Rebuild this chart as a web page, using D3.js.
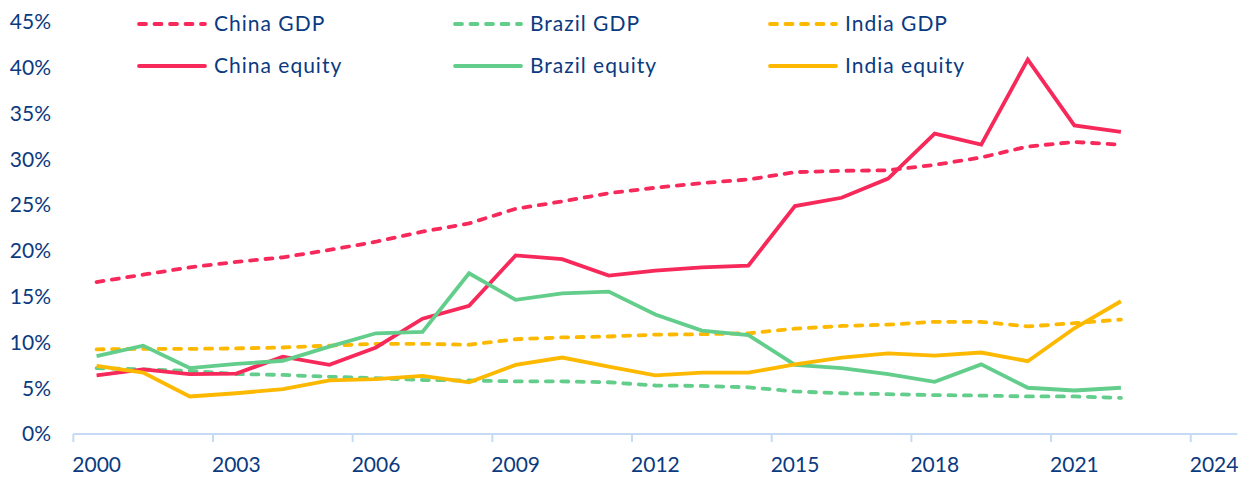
<!DOCTYPE html>
<html>
<head>
<meta charset="utf-8">
<style>
body { margin: 0; background: #fff; }
svg text { font-family: Lato, "Open Sans", sans-serif; fill: #0a3a80; }
.axis text { font-size: 21px; }
.legend text { font-size: 21px; letter-spacing: 1px; }
</style>
<script src="https://d3js.org/d3.v7.min.js"></script>
</head>
<body>
<svg width="1245" height="477"></svg>
<script>
// annual values, plotted mid-year
var years = [2000, 2001, 2002, 2003, 2004, 2005, 2006, 2007, 2008, 2009, 2010, 2011,
             2012, 2013, 2014, 2015, 2016, 2017, 2018, 2019, 2020, 2021, 2022];

var chinaGdp = [16.6, 17.4, 18.2, 18.8, 19.3, 20.1, 21.0, 22.1, 23.0, 24.6, 25.4, 26.3,
                26.9, 27.4, 27.8, 28.6, 28.75, 28.8, 29.4, 30.2, 31.4, 31.9, 31.6];
var brazilGdp = [7.2, 7.05, 6.9, 6.55, 6.45, 6.25, 6.1, 5.9, 5.85, 5.75, 5.75, 5.65,
                 5.3, 5.25, 5.1, 4.65, 4.45, 4.35, 4.25, 4.2, 4.1, 4.1, 3.95];
var indiaGdp = [9.25, 9.3, 9.3, 9.35, 9.45, 9.65, 9.85, 9.85, 9.75, 10.35, 10.55, 10.65,
                10.85, 10.9, 11.0, 11.5, 11.8, 11.95, 12.25, 12.25, 11.75, 12.1, 12.5];
var chinaEq = [6.4, 7.05, 6.55, 6.6, 8.45, 7.55, 9.45, 12.6, 14.0, 19.5, 19.1, 17.3,
               17.85, 18.2, 18.4, 24.9, 25.8, 27.9, 32.8, 31.6, 40.9, 33.7, 33.0];
var brazilEq = [8.5, 9.65, 7.2, 7.65, 8.0, 9.55, 11.0, 11.15, 17.55, 14.65, 15.35, 15.55,
                13.05, 11.3, 10.8, 7.55, 7.2, 6.55, 5.7, 7.6, 5.05, 4.75, 5.05];
var indiaEq = [7.45, 6.7, 4.1, 4.45, 4.9, 5.85, 6.0, 6.35, 5.65, 7.55, 8.35, 7.35,
               6.4, 6.7, 6.7, 7.6, 8.35, 8.8, 8.55, 8.9, 7.95, 11.55, 14.5];

var xTicks = [2000, 2003, 2006, 2009, 2012, 2015, 2018, 2021, 2024];
var yTicks = [0, 5, 10, 15, 20, 25, 30, 35, 40, 45];

var series = [
  {name: "China GDP", values: chinaGdp, color: "#f7295a", dashed: true},
  {name: "Brazil GDP", values: brazilGdp, color: "#63cd8b", dashed: true},
  {name: "India GDP", values: indiaGdp, color: "#fdb800", dashed: true},
  {name: "China equity", values: chinaEq, color: "#f7295a", dashed: false},
  {name: "Brazil equity", values: brazilEq, color: "#63cd8b", dashed: false},
  {name: "India equity", values: indiaEq, color: "#fdb800", dashed: false}
];

var svg = d3.select("svg");

var x = d3.scaleLinear().domain([2000, 2025]).range([73.3, 1237.3]);
var y = d3.scaleLinear().domain([0, 45]).range([434, 22]);

// x axis
var xAxis = svg.append("g").attr("class", "axis");
xAxis.append("line")
    .attr("x1", x(2000)).attr("x2", x(2025))
    .attr("y1", y(0)).attr("y2", y(0))
    .attr("stroke", "#c5dbf5").attr("stroke-width", 2);
xAxis.selectAll(".tick").data(xTicks).enter().append("line")
    .attr("x1", function(d) { return x(d); }).attr("x2", function(d) { return x(d); })
    .attr("y1", y(0)).attr("y2", y(0) + 8)
    .attr("stroke", "#c5dbf5").attr("stroke-width", 2);
xAxis.selectAll("text").data(xTicks).enter().append("text")
    .attr("x", function(d) { return x(d) - 1; })
    .attr("y", y(0) + 31)
    .attr("dy", ".35em")
    .text(function(d) { return d; });

// y axis labels
var yAxis = svg.append("g").attr("class", "axis");
yAxis.selectAll("text").data(yTicks).enter().append("text")
    .attr("x", 51)
    .attr("y", function(d) { return y(d); })
    .attr("dy", ".35em")
    .attr("text-anchor", "end")
    .text(function(d) { return d + "%"; });

var line = d3.line()
    .x(function(d, i) { return x(years[i] + 0.5); })
    .y(function(d) { return y(d); });

svg.selectAll(".series").data(series).enter().append("path")
    .attr("class", "series")
    .attr("d", function(s) { return line(s.values); })
    .attr("fill", "none")
    .attr("stroke", function(s) { return s.color; })
    .attr("stroke-width", 3.8)
    .attr("stroke-linejoin", "miter")
    .attr("stroke-linecap", function(s) { return s.dashed ? "round" : "butt"; })
    .attr("stroke-dasharray", function(s) { return s.dashed ? "7,8.5" : null; });

// legend, 3 columns x 2 rows
var legendX = [137, 453, 768];
var legendY = [24, 66];
var legend = svg.append("g").attr("class", "legend");
var item = legend.selectAll("g").data(series).enter().append("g")
    .attr("transform", function(s, i) {
      return "translate(" + legendX[i % 3] + "," + legendY[Math.floor(i / 3)] + ")";
    });
item.append("line")
    .attr("x1", 2).attr("x2", 68)
    .attr("stroke", function(s) { return s.color; })
    .attr("stroke-width", 3.8)
    .attr("stroke-linecap", "round")
    .attr("stroke-dasharray", function(s) { return s.dashed ? "7,8.5" : null; });
item.append("text")
    .attr("x", 77)
    .attr("dy", ".35em")
    .text(function(s) { return s.name; });
</script>
</body>
</html>
